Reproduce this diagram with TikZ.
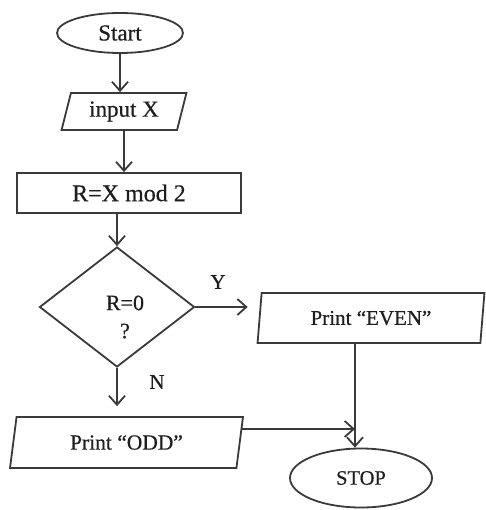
\documentclass[tikz,border=0pt]{standalone}
\usepackage{fontspec}
\setmainfont{Liberation Serif}[UprightFeatures={FakeBold=0.5}]
\usetikzlibrary{shapes.geometric,arrows.meta}
\definecolor{lc}{HTML}{3A3A3A}
\definecolor{tc}{HTML}{1E1E1E}
\begin{document}
\begin{tikzpicture}[x=1pt,y=-1pt,
  shp/.style={draw=lc, line width=1.8pt, inner sep=0pt, text=tc},
  para/.style={shp, trapezium, trapezium stretches=true},
  conn/.style={draw=lc, line width=1.8pt, -{Straight Barb[length=9pt,width=16pt]}},
  lbl/.style={text=tc, inner sep=0pt, font=\fontsize{21}{24}\selectfont}]
\useasboundingbox (0,0) rectangle (485,510);
\node[shp, ellipse, minimum width=126pt, minimum height=40pt,
  font=\fontsize{23}{26}\selectfont] (start) at (120,33) {Start};
\node[para, trapezium left angle=73, trapezium right angle=107,
  minimum width=125pt, minimum height=37pt,
  font=\fontsize{23}{26}\selectfont] (input) at (124,111.5) {input X};
\node[shp, rectangle, minimum width=224pt, minimum height=40pt,
  font=\fontsize{24}{26}\selectfont] (calc) at (129,193) {R=X mod 2};
\node[shp, diamond, minimum width=155pt, minimum height=120pt] (dec) at (117,307) {};
\node[lbl, align=center, font=\fontsize{22}{28}\selectfont] (dectxt) at (125,317) {R=0\\?};
\node[para, trapezium left angle=81, trapezium right angle=99,
  minimum width=227pt, minimum height=50pt,
  font=\fontsize{21}{24}\selectfont] (even) at (371,318) {Print “EVEN”};
\node[para, trapezium left angle=77, trapezium right angle=103,
  minimum width=233pt, minimum height=51pt,
  font=\fontsize{21.5}{24}\selectfont] (odd) at (126.5,442.5) {Print “ODD”};
\node[shp, ellipse, minimum width=142pt, minimum height=59pt,
  font=\fontsize{20.5}{24}\selectfont] (stop) at (361,478) {STOP};
\node[lbl] (ylbl) at (218,282) {Y};
\node[lbl] (nlbl) at (157,382) {N};
\coordinate (j) at (355,429);
\draw[conn] (start.south) -- (start.south |- input.north);
\draw[conn] (input.south) -- (input.south |- calc.north);
\draw[conn] (calc.south -| dec) -- (dec.north);
\draw[conn, shorten >=11pt] (dec.east) -- (dec.east -| even.west);
\draw[conn, shorten >=10pt] (dec.south) -- (dec.south |- odd.north);
\draw[conn] (even.south -| j) -- (stop.north -| j);
\draw[conn] (odd.east |- j) -- (j);
\end{tikzpicture}
\end{document}
